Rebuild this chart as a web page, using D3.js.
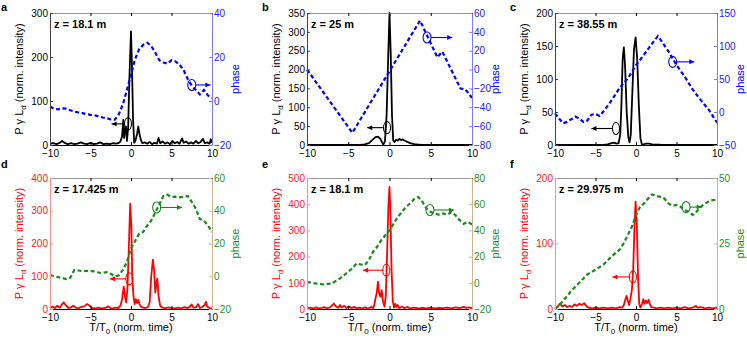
<!DOCTYPE html>
<html>
<head>
<meta charset="utf-8">
<script src="https://cdn.jsdelivr.net/npm/d3@7"></script>
<style>
  body { margin: 0; background: #fff; }
  svg { font-family: Arial, "Liberation Sans", sans-serif; }
</style>
</head>
<body>
<div id="chart"></div>
<script>
// Six plotyy-style panels: intensity (left axis) and phase (right axis) vs T/T0.

const T_TICKS = [-10, -5, 0, 5, 10];

// ---- panel a, z = 18.1 m
const aIntensity = [[-10,3],[-9.6,4],[-9.2,2],[-8.8,5],[-8.5,9],[-8.2,5],[-7.8,2],[-7.4,4],[-7,2],[-6.6,3],[-6.2,6],[-5.8,3],[-5.4,2],[-5,5],[-4.6,2],[-4.2,3],[-3.8,6],[-3.4,2],[-3,3],[-2.6,2],[-2.2,4],[-1.8,3],[-1.5,5],[-1.3,8],[-1.1,20],[-0.95,57],[-0.85,16],[-0.75,30],[-0.62,42],[-0.5,9],[-0.35,40],[-0.2,150],[0,258],[0.12,180],[0.25,60],[0.4,5],[0.55,10],[0.75,25],[0.9,42],[1.0,30],[1.1,20],[1.25,10],[1.4,4],[1.7,6],[2.0,3],[2.3,7],[2.6,2],[2.9,5],[3.2,3],[3.4,16],[3.6,4],[3.9,8],[4.2,3],[4.5,6],[4.8,2],[5.1,9],[5.4,4],[5.7,7],[6.0,3],[6.3,15],[6.5,5],[6.8,8],[7.1,3],[7.4,6],[7.7,3],[8.0,9],[8.3,4],[8.6,7],[8.9,14],[9.1,4],[9.4,6],[9.7,3],[9.85,13],[10,5]];
const aPhase = [[-10,-2.5],[-9.5,-3.5],[-9,-3.8],[-8.5,-3.3],[-8,-3.5],[-7.5,-4.2],[-7,-4.8],[-6.5,-5.2],[-6,-5.5],[-5.5,-6],[-5,-6.3],[-4.5,-6.5],[-4,-7],[-3.5,-7.5],[-3,-7.8],[-2.5,-8.4],[-2,-8.5],[-1.5,-6],[-1,-1.5],[-0.5,5],[0,12],[0.5,19],[1,23.5],[1.5,25.5],[2,26.5],[2.5,25],[3,22],[3.5,18.5],[4,17.5],[4.5,17],[5,18.5],[5.5,18],[6,16.5],[6.5,14],[7,10],[7.5,7],[8,5],[8.5,3],[9,5],[9.5,2.5],[10,1.5]];

// ---- panel b, z = 25 m
const bIntensity = [[-10,0],[-6,0],[-4,0],[-3.5,0.5],[-3,1.5],[-2.5,5],[-2,15],[-1.7,21],[-1.4,22],[-1.1,16],[-0.9,7],[-0.75,1],[-0.55,10],[-0.35,80],[-0.15,240],[0,350],[0.15,240],[0.3,80],[0.45,12],[0.6,8],[0.8,14],[1.0,12],[1.2,16],[1.4,13],[1.6,15],[1.8,12],[2.0,10],[2.3,7],[2.6,4],[3,2],[3.5,1],[4,0],[10,0]];
const bPhase = [[-10,0],[-4.5,-67],[3.7,52],[5.8,13],[6.4,19],[8.6,-20],[9.2,-21],[10,-30]];

// ---- panel c, z = 38.55 m
const cIntensity = [[-10,0],[-4,0],[-3.5,1],[-3,3],[-2.7,3.5],[-2.4,2],[-2.15,3],[-1.95,15],[-1.8,60],[-1.65,130],[-1.5,148],[-1.35,120],[-1.15,50],[-0.95,12],[-0.8,4],[-0.65,15],[-0.45,80],[-0.25,145],[-0.05,163],[0.15,130],[0.35,60],[0.55,10],[0.75,0],[1.2,2],[1.6,2],[2,1],[3,0.5],[10,0]];
const cPhase = [[-10,-2],[-9.5,-10],[-9,-17],[-8.5,-15],[-8,-11],[-7.5,-7],[-7,-10],[-6.5,-15],[-6,-13],[-5.5,-4],[-5,-3],[-4.5,-6],[-4,1],[-3,18],[-2,37],[-1,51],[0,71],[1,87],[2,104],[2.7,115],[3,110],[4,92],[5,71],[6,54],[7,34],[8,18],[9,3],[10,-16]];

// ---- panel d, z = 17.425 m
const dIntensity = [[-10,2],[-9.7,8],[-9.4,3],[-9.1,10],[-8.8,4],[-8.5,15],[-8.3,20],[-8.0,10],[-7.7,3],[-7.4,5],[-7.1,10],[-6.8,4],[-6.5,2],[-6.2,6],[-5.8,8],[-5.4,15],[-5.1,10],[-4.8,3],[-4.4,2],[-4,4],[-3.6,2],[-3.2,3],[-2.8,8],[-2.5,3],[-2.2,2],[-1.9,4],[-1.6,3],[-1.3,10],[-1.1,30],[-0.9,68],[-0.75,40],[-0.6,20],[-0.45,60],[-0.3,160],[-0.1,322],[0.05,250],[0.15,100],[0.3,40],[0.45,15],[0.6,30],[0.75,18],[0.9,28],[1.05,15],[1.2,8],[1.5,4],[1.8,3],[2.1,6],[2.3,20],[2.5,100],[2.7,151],[2.85,120],[3.0,50],[3.15,80],[3.25,93],[3.4,40],[3.6,10],[3.9,4],[4.2,2],[4.6,5],[5,3],[5.4,2],[5.8,4],[6.2,2],[6.6,6],[7,3],[7.3,8],[7.5,14],[7.7,4],[8,5],[8.3,15],[8.5,3],[8.8,6],[9.1,12],[9.25,22],[9.4,8],[9.7,3],[10,2]];
const dPhase = [[-10,0.7],[-9.5,0],[-9,-0.5],[-8.5,-1],[-8,-1.7],[-7.5,-1],[-7,3.8],[-6.5,3.5],[-6,3.1],[-5.5,3.3],[-5,3.1],[-4.5,3],[-4,2.3],[-3.5,2],[-3,2.5],[-2.5,1.5],[-2,0],[-1.5,0.5],[-1,3.8],[-0.5,8.8],[0,17],[0.5,21.4],[1,26],[1.5,27],[2,31],[2.5,34],[3,39],[3.5,43.8],[4,49],[4.5,49.8],[5,48.4],[5.5,48.6],[6,48.2],[6.5,48.5],[7,49],[7.5,45.4],[8,41.3],[8.5,35],[9,34],[9.5,31],[10,27]];

// ---- panel e, z = 18.1 m
const eIntensity = [[-10,3],[-9.6,5],[-9.2,2],[-8.9,6],[-8.6,2],[-8.2,4],[-7.9,7],[-7.6,3],[-7.3,5],[-7.0,12],[-6.75,21],[-6.5,10],[-6.2,5],[-6.0,15],[-5.8,6],[-5.5,12],[-5.2,4],[-4.9,10],[-4.6,3],[-4.3,8],[-4,3],[-3.7,5],[-3.3,2],[-3,6],[-2.6,2],[-2.2,8],[-2,3],[-1.85,15],[-1.7,40],[-1.55,60],[-1.4,104],[-1.25,60],[-1.1,47],[-0.95,72],[-0.8,30],[-0.6,9],[-0.45,50],[-0.3,200],[-0.15,380],[0,466],[0.12,350],[0.25,150],[0.4,30],[0.55,5],[0.7,20],[0.85,8],[1.0,15],[1.2,3],[1.5,10],[1.8,3],[2.2,8],[2.5,2],[3,5],[3.5,2],[4,4],[4.5,2],[5,5],[5.5,2],[6,4],[6.5,3],[7,5],[7.5,2],[8,6],[8.5,3],[9,8],[9.3,4],[9.6,6],[10,3]];
const ePhase = [[-10,0.8],[-9,-0.5],[-8,-1.2],[-7,-0.5],[-6,3.4],[-5,8.4],[-4.5,11],[-4,14.8],[-3.5,14],[-3,13.5],[-2.5,17.3],[-2,23.6],[-1.5,27.5],[-1,32.5],[-0.5,36.3],[0,40],[0.5,45.2],[1,50.3],[1.5,54],[2,58],[2.5,60.5],[3,64],[3.5,65.5],[4,61.7],[4.5,56.6],[5,54],[5.5,52.8],[6,52],[6.5,53],[7,52],[7.5,54],[8,51.6],[8.5,47.8],[9,45],[9.5,46.5],[10,44.5]];

// ---- panel f, z = 29.975 m
const fIntensity = [[-10,1],[-9.7,3],[-9.4,8],[-9.1,4],[-8.8,6],[-8.5,3],[-8.2,5],[-7.9,3],[-7.6,7],[-7.3,5],[-7.0,8],[-6.7,6],[-6.4,9],[-6.1,4],[-5.8,2],[-5.4,1],[-5,2],[-4.5,1],[-4,2],[-3.5,1],[-3,2],[-2.5,1],[-2,3],[-1.7,2],[-1.5,6],[-1.3,15],[-1.15,20],[-1.0,12],[-0.85,6],[-0.7,15],[-0.5,30],[-0.35,60],[-0.2,120],[-0.05,164],[0.1,130],[0.25,50],[0.4,8],[0.55,2],[0.75,8],[0.9,15],[1.05,8],[1.2,13],[1.35,9],[1.55,14],[1.7,8],[1.9,3],[2.2,2],[2.6,1],[3,2],[3.5,1],[4,2],[4.5,1],[5,2],[5.5,1],[6,3],[6.5,1],[7,2],[7.4,5],[7.6,2],[8,3],[8.5,1],[9,2],[9.5,1],[10,2]];
const fPhase = [[-10,0],[-9.5,1.3],[-9,3.1],[-8,6.9],[-7,10],[-6,13.2],[-5,15],[-4,17],[-3,20.1],[-2,22.7],[-1.5,25.2],[-1,28.3],[-0.5,31.5],[0,35.9],[0.5,39],[1,40.3],[1.5,42.2],[2,43.7],[2.5,43.2],[3,42.8],[3.5,42.2],[4,40.3],[4.5,39.4],[5,39.7],[5.5,39],[6,37.8],[6.5,37.2],[7,35.9],[7.5,37.2],[8,39],[8.5,40.3],[9,41],[9.5,41.6],[10,41.6]];

const LETTERS = ["a", "b", "c", "d", "e", "f"];
const TITLES = ["z = 18.1 m", "z = 25 m", "z = 38.55 m", "z = 17.425 m", "z = 18.1 m", "z = 29.975 m"];
const LEFT_TICKS = [[0,100,200,300], [0,50,100,150,200,250,300,350], [0,50,100,150,200], [0,100,200,300,400], [0,100,200,300,400,500], [0,100,200]];
const RIGHT_TICKS = [[-20,0,20,40], [-80,-60,-40,-20,0,20,40,60], [-50,0,50,100,150], [-20,0,20,40,60], [-20,0,20,40,60,80], [0,25,50]];
// annotation: [t, value, arrow tip t]
const AMP_NOTES = [[-0.37,48,-2.4], [-0.3,46,-2.7], [-2.47,25,-5.5], [-0.2,92,-2.6], [-0.39,148,-3.2], [-0.38,49,-2.9]];
const PHASE_NOTES = [[7.5,7.3,9.8], [4.55,34,7.6], [4.53,76,7.2], [3.17,42,6.3], [4.9,55.6,7.8], [6.18,38.9,8.1]];

const INTENSITY = [aIntensity, bIntensity, cIntensity, dIntensity, eIntensity, fIntensity];
const PHASE = [aPhase, bPhase, cPhase, dPhase, ePhase, fPhase];

const COLS = [{ l: 50, w: 162 }, { l: 307, w: 165 }, { l: 555, w: 162 }];
const ROWS = [{ t: 13, h: 132 }, { t: 178, h: 131 }];
const STYLE = [
  { amp: "#000", ph: "#0000ff", lSpine: "#444", rSpine: "#7b7bff", lTxt: "#000", rTxt: "#2020ff" },
  { amp: "#ff0000", ph: "#1a8a1a", lSpine: "#ff8f8f", rSpine: "#c9b496", lTxt: "#ff1a1a", rTxt: "#1f8f1f" },
];
const ARROW_COLORS = ["#000", "#0000ff", "#ff0000", "#1a8a1a"];

const svg = d3.select("#chart").append("svg").attr("width", 747).attr("height", 338);

const defs = svg.append("defs");
ARROW_COLORS.forEach((c, i) => {
  defs.append("marker")
    .attr("id", "arr" + i)
    .attr("viewBox", "0 0 10 10").attr("refX", 10).attr("refY", 5)
    .attr("markerWidth", 6).attr("markerHeight", 5).attr("markerUnits", "userSpaceOnUse")
    .attr("orient", "auto")
    .append("path").attr("d", "M0,0L10,5L0,10Z").attr("fill", c);
});
const markerFor = (c) => "url(#arr" + ARROW_COLORS.indexOf(c) + ")";

for (let i = 0; i < 6; i++) {
  const row = Math.floor(i / 3), col = i % 3;
  const { l, w } = COLS[col];
  const { t, h } = ROWS[row];
  const st = STYLE[row];
  const lt = LEFT_TICKS[i], rt = RIGHT_TICKS[i];

  const x = d3.scaleLinear().domain([-10, 10]).range([l, l + w]);
  const yL = d3.scaleLinear().domain([0, lt[lt.length - 1]]).range([t + h, t]);
  const yR = d3.scaleLinear().domain([rt[0], rt[rt.length - 1]]).range([t + h, t]);

  const g = svg.append("g");

  // curves
  g.append("path").datum(INTENSITY[i])
    .attr("d", d3.line().x((d) => x(d[0])).y((d) => yL(d[1])))
    .attr("fill", "none").attr("stroke", st.amp).attr("stroke-width", 1.8).attr("stroke-linejoin", "round");
  g.append("path").datum(PHASE[i])
    .attr("d", d3.line().x((d) => x(d[0])).y((d) => yR(d[1])))
    .attr("fill", "none").attr("stroke", st.ph).attr("stroke-width", 2.2).attr("stroke-dasharray", "4,2.6");

  // axes, MATLAB style ticks pointing inward
  g.append("g").attr("transform", `translate(0,${t + h})`)
    .call(d3.axisBottom(x).tickValues(T_TICKS).tickSizeInner(-3).tickSizeOuter(0).tickPadding(4.5))
    .call((s) => s.select(".domain").attr("stroke", "#000"));
  g.append("g").attr("transform", `translate(0,${t})`)
    .call(d3.axisTop(x).tickValues(T_TICKS).tickSizeInner(-3).tickSizeOuter(0).tickFormat(""))
    .call((s) => s.select(".domain").attr("stroke", "#999"));
  g.append("g").attr("transform", `translate(${l},0)`)
    .call(d3.axisLeft(yL).tickValues(lt).tickSizeInner(-3).tickSizeOuter(0).tickPadding(2))
    .call((s) => {
      s.select(".domain").attr("stroke", st.lSpine);
      s.selectAll(".tick line").attr("stroke", st.lSpine);
      s.selectAll(".tick text").attr("fill", st.lTxt);
    });
  g.append("g").attr("transform", `translate(${l + w},0)`)
    .call(d3.axisRight(yR).tickValues(rt).tickSizeInner(-3).tickSizeOuter(0).tickPadding(2))
    .call((s) => {
      s.select(".domain").attr("stroke", st.rSpine);
      s.selectAll(".tick line").attr("stroke", st.rSpine);
      s.selectAll(".tick text").attr("fill", st.rTxt);
    });
  g.selectAll(".tick text").attr("font-size", 10).attr("font-family", "Arial, 'Liberation Sans', sans-serif");

  // annotation ellipses with arrows
  const [ax, ay, atip] = AMP_NOTES[i];
  g.append("ellipse").attr("cx", x(ax)).attr("cy", yL(ay)).attr("rx", 3.5).attr("ry", 6)
    .attr("fill", "none").attr("stroke", st.amp).attr("stroke-width", 1.1);
  g.append("line").attr("x1", x(ax) - 3.5).attr("y1", yL(ay)).attr("x2", x(atip)).attr("y2", yL(ay))
    .attr("stroke", st.amp).attr("stroke-width", 1.1).attr("marker-end", markerFor(st.amp));
  const [px, py, ptip] = PHASE_NOTES[i];
  g.append("ellipse").attr("cx", x(px)).attr("cy", yR(py)).attr("rx", 4).attr("ry", 5.5)
    .attr("fill", "none").attr("stroke", st.ph).attr("stroke-width", 1.1);
  g.append("line").attr("x1", x(px) + 4).attr("y1", yR(py)).attr("x2", x(ptip)).attr("y2", yR(py))
    .attr("stroke", st.ph).attr("stroke-width", 1.1).attr("marker-end", markerFor(st.ph));

  // title inside plot
  g.append("text").attr("x", l + 4).attr("y", t + 14.5)
    .attr("font-size", 11).attr("font-weight", "bold").text(TITLES[i]);

  // panel letter
  svg.append("text").attr("x", col === 0 ? 1 : l - 45).attr("y", row === 0 ? 11 : 168)
    .attr("font-size", 11).attr("font-weight", "bold").text(LETTERS[i]);

  // left axis label
  const yl = svg.append("text")
    .attr("transform", `translate(${l - 27},${t + h / 2}) rotate(-90)`)
    .attr("text-anchor", "middle").attr("font-size", 11).attr("fill", st.amp);
  yl.append("tspan").text("P γ L");
  yl.append("tspan").attr("font-size", 8).attr("dy", 3).text("d");
  yl.append("tspan").attr("dy", -3).text(" (norm. intensity)");

  // right axis label
  svg.append("text")
    .attr("transform", `translate(${l + w + 27},${t + h / 2}) rotate(-90)`)
    .attr("text-anchor", "middle").attr("font-size", 11).attr("fill", st.ph).text("phase");

  if (row === 1) {
    const xl = svg.append("text").attr("x", l + w / 2).attr("y", 331)
      .attr("text-anchor", "middle").attr("font-size", 11);
    xl.append("tspan").text("T/T");
    xl.append("tspan").attr("font-size", 8).attr("dy", 3).text("0");
    xl.append("tspan").attr("dy", -3).text(" (norm. time)");
  }
}
</script>
</body>
</html>
